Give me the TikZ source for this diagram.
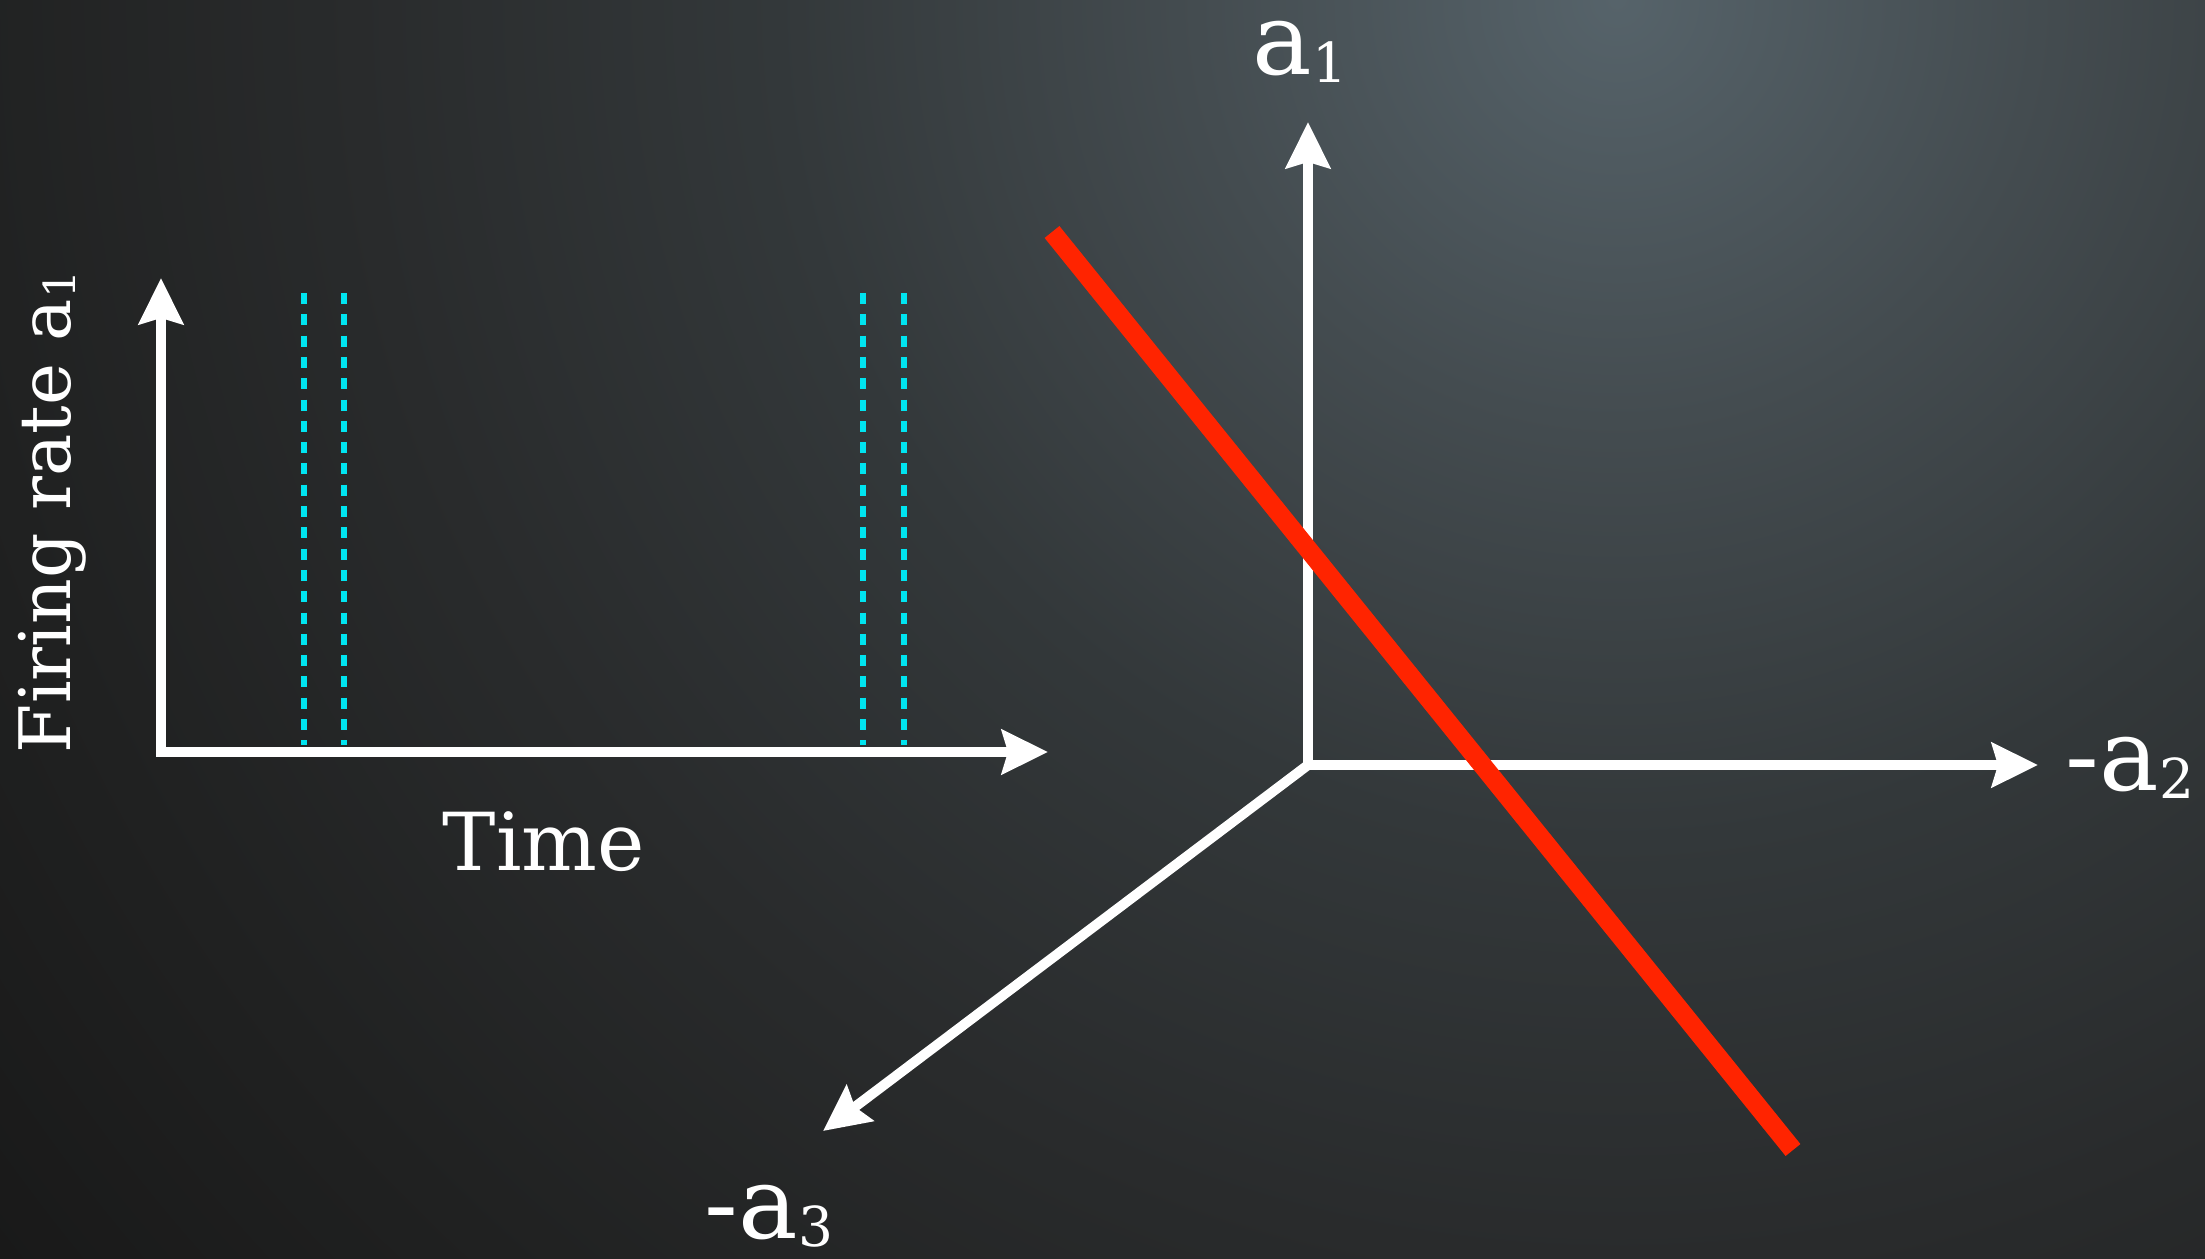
\documentclass[tikz,border=0pt]{standalone}
\usepackage{fontspec}
\setmainfont{DejaVu Serif}
\usetikzlibrary{arrows.meta}
\definecolor{bgA}{HTML}{56636A}
\definecolor{bgB}{HTML}{444C50}
\definecolor{bgC}{HTML}{33383A}
\definecolor{bgD}{HTML}{292B2C}
\definecolor{bgE}{HTML}{202121}
\definecolor{bgF}{HTML}{181818}
\definecolor{spikecol}{RGB}{0,228,240}
\definecolor{redcol}{RGB}{255,36,0}
\pgfdeclareradialshading{bgshade}{\pgfpoint{0bp}{0bp}}{color(0bp)=(bgA); color(5bp)=(bgB); color(10bp)=(bgC); color(15bp)=(bgD); color(20bp)=(bgE); color(25bp)=(bgF); color(50bp)=(bgF)}
\newcommand{\subs}[1]{\raisebox{-0.08em}{\fontsize{55}{55}\selectfont #1}}
\begin{document}
\begin{tikzpicture}[x=1pt,y=-1pt,
  axisline/.style={draw=white, line width=10pt, -{Stealth[length=46pt,width=44pt,inset=6pt]}},
  axisboth/.style={draw=white, line width=10pt, {Stealth[length=46pt,width=44pt,inset=6pt]}-{Stealth[length=46pt,width=44pt,inset=6pt]}},
  spike/.style={draw=spikecol, line width=6pt, dash pattern=on 11pt off 10.3pt},
  redline/.style={draw=redcol, line width=19pt},
  biglab/.style={text=white, font=\fontsize{100}{110}\selectfont, inner sep=0pt},
  midlab/.style={text=white, font=\fontsize{80}{90}\selectfont, inner sep=0pt}]
\useasboundingbox (0,0) rectangle (2205,1258);
\begin{scope}
\clip (0,0) rectangle (2205,1258);
\fill[bgF] (0,0) rectangle (2205,1258);
\shade[shading=bgshade] (1617,0) circle (2100);
\end{scope}
% left plot
\coordinate (o1) at (161,752);
\coordinate (ytip) at (161,278);
\coordinate (xtip) at (1048,752);
\foreach \n/\x in {s1/304,s2/344,s3/863,s4/904}{
  \coordinate (\n t) at (\x,293);
  \coordinate (\n b) at (\x,745);
  \draw[spike] (\n t) -- (\n b);
}
\draw[axisboth] (ytip) -- (o1) -- (xtip);
\node[midlab] (time) at (544,842) {Time};
\node[midlab, rotate=90, font=\fontsize{71}{80}\selectfont] (firing) at (52,512) {Firing rate a\raisebox{-0.08em}{\fontsize{44}{44}\selectfont 1}};
% 3D axes
\coordinate (o2) at (1308,765);
\coordinate (a1tip) at (1308,122);
\coordinate (a2tip) at (2038,765);
\coordinate (a3tip) at (823,1131);
\draw[axisboth] (a1tip) -- (o2) -- (a2tip);
\draw[axisline] (o2) -- (a3tip);
\coordinate (r1) at (1052,232);
\coordinate (r2) at (1793,1150);
\draw[redline] (r1) -- (r2);
\node[biglab] (la1) at (1300,52) {a\subs{1}};
\node[biglab] (la2) at (2130,768) {-a\subs{2}};
\node[biglab] (la3) at (769,1216) {-a\subs{3}};
\end{tikzpicture}
\end{document}
